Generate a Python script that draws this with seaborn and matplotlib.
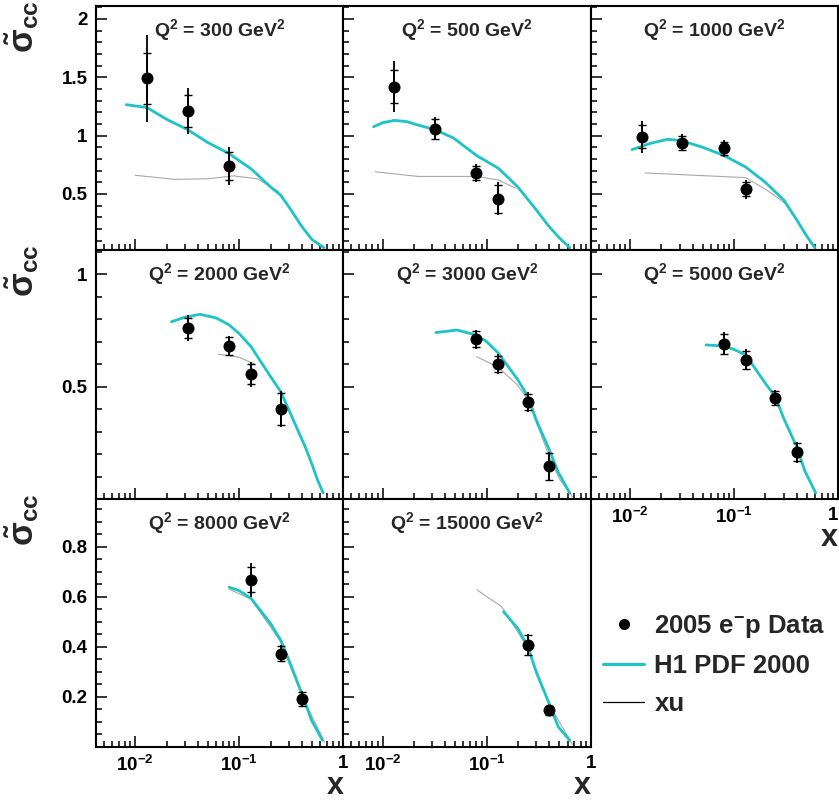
import numpy as np
import pandas as pd
import matplotlib
matplotlib.use("Agg")
import matplotlib.pyplot as plt
import seaborn as sns
from matplotlib.ticker import FixedLocator, MultipleLocator, LogLocator, FuncFormatter, NullFormatter
from matplotlib.lines import Line2D

# ---------- data ----------
Q2 = [300, 500, 1000, 2000, 3000, 5000, 8000, 15000]

# measured points (x, reduced cross section, stat error, total error)
X_DATA = {
    300: [0.013, 0.032, 0.08],
    500: [0.013, 0.032, 0.08, 0.13],
    1000: [0.013, 0.032, 0.08, 0.13],
    2000: [0.032, 0.08, 0.13, 0.25],
    3000: [0.08, 0.13, 0.25, 0.4],
    5000: [0.08, 0.13, 0.25, 0.4],
    8000: [0.13, 0.25, 0.4],
    15000: [0.25, 0.4],
}
SIGMA = {
    300: [1.49, 1.21, 0.74],
    500: [1.42, 1.06, 0.68, 0.46],
    1000: [0.99, 0.94, 0.89, 0.54],
    2000: [0.76, 0.68, 0.555, 0.40],
    3000: [0.71, 0.60, 0.43, 0.146],
    5000: [0.69, 0.62, 0.45, 0.207],
    8000: [0.667, 0.373, 0.191],
    15000: [0.407, 0.147],
}
STAT = {
    300: [0.22, 0.14, 0.12],
    500: [0.14, 0.085, 0.06, 0.12],
    1000: [0.10, 0.06, 0.055, 0.06],
    2000: [0.045, 0.04, 0.045, 0.07],
    3000: [0.035, 0.037, 0.036, 0.06],
    5000: [0.045, 0.04, 0.03, 0.04],
    8000: [0.05, 0.03, 0.027],
    15000: [0.04, 0.018],
}
TOTAL = {
    300: [0.37, 0.20, 0.16],
    500: [0.215, 0.10, 0.08, 0.14],
    1000: [0.135, 0.075, 0.07, 0.08],
    2000: [0.057, 0.046, 0.055, 0.078],
    3000: [0.043, 0.044, 0.044, 0.065],
    5000: [0.052, 0.045, 0.035, 0.045],
    8000: [0.067, 0.034, 0.031],
    15000: [0.045, 0.022],
}

# H1 PDF 2000 expectation
X_PDF = {
    300: [0.0082, 0.013, 0.02, 0.032, 0.05, 0.08, 0.13, 0.2, 0.25, 0.3, 0.4, 0.5, 0.65],
    500: [0.0082, 0.01, 0.013, 0.017, 0.022, 0.032, 0.048, 0.08, 0.13, 0.2, 0.3, 0.4, 0.5, 0.63],
    1000: [0.0105, 0.016, 0.023, 0.031, 0.05, 0.08, 0.13, 0.2, 0.3, 0.4, 0.5, 0.6],
    2000: [0.0223, 0.03, 0.042, 0.06, 0.08, 0.1, 0.13, 0.2, 0.25, 0.3, 0.37, 0.43, 0.495, 0.56, 0.64],
    3000: [0.0326, 0.052, 0.08, 0.1, 0.13, 0.2, 0.25, 0.3, 0.4, 0.49, 0.63],
    5000: [0.054, 0.08, 0.1, 0.13, 0.2, 0.25, 0.3, 0.4, 0.48, 0.61],
    8000: [0.08, 0.1, 0.13, 0.2, 0.25, 0.3, 0.4, 0.495, 0.63],
    15000: [0.146, 0.2, 0.25, 0.3, 0.4, 0.49, 0.63],
}
Y_PDF = {
    300: [1.265, 1.24, 1.14, 1.05, 0.94, 0.845, 0.715, 0.56, 0.49, 0.39, 0.22, 0.11, 0.04],
    500: [1.076, 1.11, 1.13, 1.12, 1.09, 1.05, 0.98, 0.83, 0.72, 0.56, 0.365, 0.22, 0.125, 0.04],
    1000: [0.88, 0.935, 0.968, 0.958, 0.90, 0.83, 0.73, 0.60, 0.45, 0.28, 0.14, 0.04],
    2000: [0.788, 0.808, 0.821, 0.805, 0.774, 0.735, 0.677, 0.544, 0.478, 0.396, 0.30, 0.233, 0.16, 0.09, 0.027],
    3000: [0.74, 0.751, 0.729, 0.70, 0.648, 0.53, 0.455, 0.352, 0.22, 0.118, 0.027],
    5000: [0.685, 0.68, 0.665, 0.64, 0.515, 0.455, 0.36, 0.233, 0.125, 0.027],
    8000: [0.638, 0.624, 0.593, 0.493, 0.427, 0.347, 0.213, 0.107, 0.027],
    15000: [0.54, 0.473, 0.40, 0.30, 0.173, 0.08, 0.027],
}

# xu contribution
X_XU = {
    300: [0.01, 0.024, 0.05, 0.088, 0.15, 0.24],
    500: [0.0085, 0.022, 0.04, 0.08, 0.13, 0.19],
    1000: [0.014, 0.074, 0.13, 0.21, 0.31],
    2000: [0.063, 0.1, 0.14],
    3000: [0.08, 0.13, 0.2, 0.25, 0.4, 0.5, 0.67],
    8000: [0.08, 0.13, 0.25, 0.4, 0.66],
    15000: [0.081, 0.14, 0.25, 0.4, 0.67],
}
Y_XU = {
    300: [0.66, 0.625, 0.63, 0.655, 0.63, 0.52],
    500: [0.69, 0.65, 0.65, 0.65, 0.62, 0.55],
    1000: [0.68, 0.65, 0.64, 0.53, 0.42],
    2000: [0.644, 0.63, 0.60],
    3000: [0.633, 0.585, 0.505, 0.44, 0.19, 0.09, 0.01],
    8000: [0.63, 0.59, 0.42, 0.205, 0.02],
    15000: [0.627, 0.56, 0.395, 0.17, 0.01],
}

ROW_YLIM = [(0.02, 2.11), (0.0, 1.107), (0.0, 0.99)]
ROW_MAJOR = [[0.5, 1, 1.5, 2], [0.5, 1], [0.2, 0.4, 0.6, 0.8]]
ROW_MINOR = [0.1, 0.1, 0.05]

CYAN = "#1cc4c8"

# ---------- style ----------
sns.set_theme(style="ticks")
plt.rcParams["font.family"] = ["Liberation Sans", "DejaVu Sans"]
plt.rcParams["font.weight"] = "bold"
plt.rcParams["mathtext.fontset"] = "custom"
plt.rcParams["mathtext.rm"] = "Liberation Sans"
plt.rcParams["mathtext.bf"] = "Liberation Sans:bold"
plt.rcParams["mathtext.it"] = "Liberation Sans:italic"
plt.rcParams["mathtext.sf"] = "Liberation Sans"

W, H = 839, 805
fig = plt.figure(figsize=(W / 100, H / 100), dpi=100)

col_left = [96, 343.3, 590.7]
col_w = 247.3
row_top = [6, 250, 499]
row_bot = [250, 499, 747]


def fmt_y(v, pos):
    return "%g" % v


def fmt_x(v, pos):
    if abs(v - 1) < 1e-9:
        return "1"
    return r"10$^{\mathbf{%d}}$" % int(round(np.log10(v)))


for i, q in enumerate(Q2):
    r, c = divmod(i, 3)
    ax = fig.add_axes([col_left[c] / W, 1 - row_bot[r] / H, col_w / W,
                       (row_bot[r] - row_top[r]) / H])
    ax.set_xscale("log")

    if q in X_XU:
        sns.lineplot(x=X_XU[q], y=Y_XU[q], ax=ax, color="#a8a8a8", lw=0.8,
                     estimator=None, sort=False)
    sns.lineplot(x=X_PDF[q], y=Y_PDF[q], ax=ax, color=CYAN, lw=2.0,
                 estimator=None, sort=False)

    df = pd.DataFrame({"x": X_DATA[q], "s": SIGMA[q],
                       "stat": STAT[q], "tot": TOTAL[q]})
    ax.errorbar(df["x"], df["s"], yerr=df["tot"], fmt="none", ecolor="black",
                elinewidth=1.3, capsize=0)
    ax.errorbar(df["x"], df["s"], yerr=df["stat"], fmt="none", ecolor="black",
                elinewidth=1.3, capsize=3, capthick=1.0)
    sns.scatterplot(data=df, x="x", y="s", ax=ax, color="black", s=75,
                    edgecolor="black", linewidth=0, zorder=5)

    ax.set_xlim(0.0042, 1.0)
    ax.set_ylim(*ROW_YLIM[r])
    ax.set_xlabel("")
    ax.set_ylabel("")

    ax.xaxis.set_major_locator(FixedLocator([0.01, 0.1, 1.0]))
    ax.xaxis.set_minor_locator(LogLocator(base=10, subs=np.arange(2, 10)))
    ax.xaxis.set_minor_formatter(NullFormatter())
    ax.yaxis.set_major_locator(FixedLocator(ROW_MAJOR[r]))
    ax.yaxis.set_minor_locator(MultipleLocator(ROW_MINOR[r]))
    ax.yaxis.set_major_formatter(FuncFormatter(fmt_y))
    ax.xaxis.set_major_formatter(FuncFormatter(fmt_x))

    ax.tick_params(which="both", direction="in", top=False, right=False,
                   width=1.1, labelsize=13.5, colors="black")
    ax.tick_params(which="major", length=8)
    ax.tick_params(which="minor", length=4)
    ax.tick_params(axis="x", pad=6)
    ax.tick_params(axis="y", pad=6)

    for sp in ax.spines.values():
        sp.set_visible(True)
        sp.set_linewidth(1.5)
        sp.set_color("black")

    show_x = (r == 2) or (r == 1 and c == 2)
    if not show_x:
        ax.tick_params(axis="x", labelbottom=False)
    else:
        ax.set_xlabel("x", loc="right", fontsize=22, fontweight="bold",
                      labelpad=-3)
        if c == 2:
            # keep the "1" at the figure edge inside the canvas
            fig.canvas.draw()
            ax.get_xticklabels()[-1].set_horizontalalignment("right")
    if c != 0:
        ax.tick_params(axis="y", labelleft=False)

    ax.text(0.5, 1 - 24 / 247, r"Q$^{\mathbf{2}}$ = %d GeV$^{\mathbf{2}}$" % q,
            transform=ax.transAxes, ha="center", va="center", fontsize=14,
            fontweight="bold")

# y labels at the top of each row
for r in range(3):
    fig.text(22 / W, 1 - (row_top[r] - 5) / H,
             r"$\tilde{\mathrm{\sigma}}_{\mathrm{cc}}$",
             rotation=90, ha="center", va="top", fontsize=25)

# legend in the empty bottom-right slot
handles = [
    Line2D([], [], ls="none", marker="o", color="black", markersize=7),
    Line2D([], [], color=CYAN, lw=2.2),
    Line2D([], [], color="black", lw=0.9),
]
labels = [r"2005 e$^{\mathbf{-}}$p Data", "H1 PDF 2000", "xu"]
fig.legend(handles, labels, loc="upper left",
           bbox_to_anchor=(603 / W, 1 - 613 / H), frameon=False,
           fontsize=18.5, handlelength=1.6, handletextpad=0.4,
           labelspacing=0.55, borderaxespad=0, borderpad=0)

fig.savefig("out.png", dpi=100)
